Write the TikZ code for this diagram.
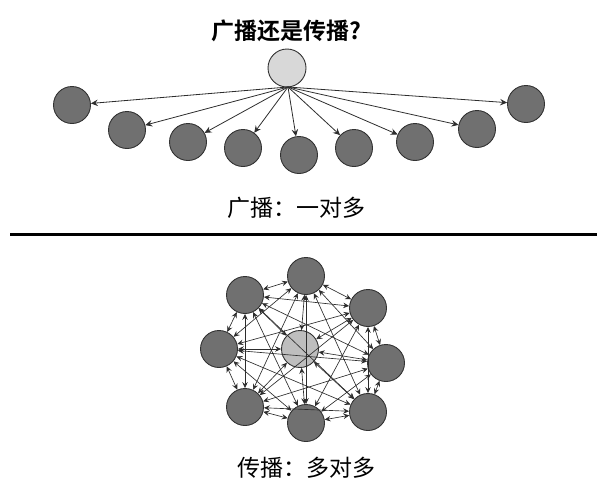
\documentclass[tikz,border=0pt]{standalone}
\usepackage{fontspec}
\setmainfont{Noto Sans CJK SC}
\newfontfamily\cjkb{Noto Sans CJK SC Bold}
\usetikzlibrary{arrows.meta}
\definecolor{darkfill}{RGB}{112,112,112}
\definecolor{lightfill}{RGB}{216,216,216}
\definecolor{midfill}{RGB}{190,190,190}
\definecolor{rim}{RGB}{50,50,50}
\definecolor{edgecol}{RGB}{45,45,45}
\tikzset{
  dark/.style={circle,draw=rim,line width=0.9pt,fill=darkfill,minimum size=37pt,inner sep=0pt},
  light/.style={circle,draw=rim,line width=0.9pt,fill=lightfill,minimum size=38pt,inner sep=0pt},
  mid/.style={circle,draw=rim,line width=0.9pt,fill=midfill,minimum size=37pt,inner sep=0pt},
  fan/.style={draw=edgecol,line width=0.8pt,-{Stealth[length=7pt,width=6.5pt,inset=2.5pt]}},
  mesh/.style={draw=edgecol,line width=0.65pt,{Stealth[length=6pt,width=5.5pt,inset=2.2pt]}-{Stealth[length=6pt,width=5.5pt,inset=2.2pt]}},
  label/.style={font=\fontsize{23}{26}\selectfont,inner sep=0pt}
}
\begin{document}
\begin{tikzpicture}[x=1pt,y=-1pt]
\useasboundingbox (0,0) rectangle (597,482);
% title
\node[label,font=\cjkb\fontsize{23}{26}\selectfont] (title) at (286,31) {广播还是传播?};
% top fan
\node[light] (t0) at (287,68) {};
\coordinate (src) at (288,87);
\node[dark] (t1) at (72,105) {};
\node[dark] (t2) at (127,130) {};
\node[dark] (t3) at (188,142) {};
\node[dark] (t4) at (243,148) {};
\node[dark] (t5) at (299,155) {};
\node[dark] (t6) at (354,148) {};
\node[dark] (t7) at (415,142) {};
\node[dark] (t8) at (477,129) {};
\node[dark] (t9) at (526,104) {};
\foreach \i in {1,...,9} { \draw[fan] (src) -- (t\i); }
\node[label] (lab1) at (296,208) {广播：一对多};
% divider
\coordinate (dl) at (10,234);
\coordinate (dr) at (597,234);
\draw[line width=3pt] (dl) -- (dr);
% bottom mesh
\node[mid] (bc) at (300,349) {};
\node[dark] (b1) at (306,276) {};
\node[dark] (b2) at (368,308) {};
\node[dark] (b3) at (386,363) {};
\node[dark] (b4) at (368,412) {};
\node[dark] (b5) at (306,423) {};
\node[dark] (b6) at (245,407) {};
\node[dark] (b7) at (219,349) {};
\node[dark] (b8) at (245,295) {};
\foreach \i in {1,...,7} {
  \pgfmathtruncatemacro\k{\i+1}
  \foreach \j in {\k,...,8} { \draw[mesh] (b\i) -- (b\j); }
}
\foreach \i in {1,...,8} { \draw[mesh] (b\i) -- (bc); }
\node[label] (lab2) at (306,468) {传播：多对多};
\end{tikzpicture}
\end{document}
